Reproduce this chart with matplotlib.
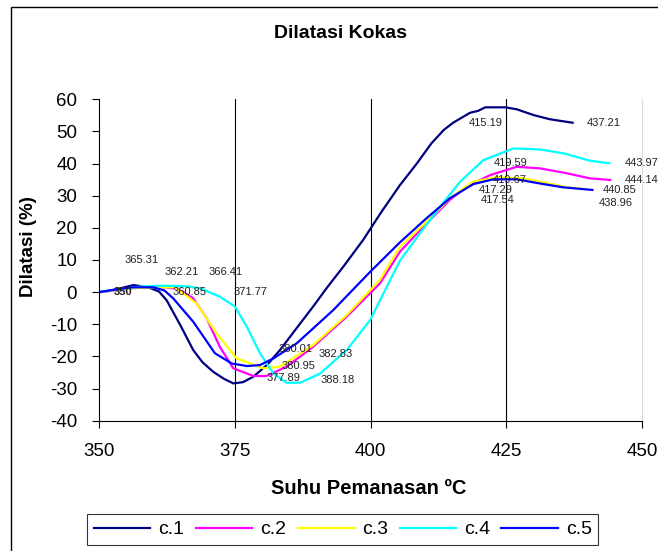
#coding:utf-8
import matplotlib
matplotlib.use("Agg")
import matplotlib.pyplot as plt
from matplotlib.patches import Rectangle

plt.rcParams['font.family'] = ['Liberation Sans', 'DejaVu Sans']
plt.rcParams['axes.unicode_minus'] = False

# data (suhu, dilatasi)
t1 = [350, 353, 356.3, 359, 361, 362.4, 365, 367.3, 369, 371, 373, 374.7, 376.5, 378.4, 381, 383.3, 386,
      389.4, 392, 395, 398.6, 402, 405.4, 408.5, 411.2, 413.5, 415.19, 418.3, 419.8, 421.1, 424.8, 426.9,
      430, 433, 437.21]
d1 = [0, 0.8, 2.2, 1.5, 0.2, -2.5, -10.5, -18.0, -21.8, -24.8, -27.0, -28.4, -28.0, -26.3, -22.5, -18.0, -12.0,
      -4.5, 1.5, 8.0, 16.2, 25.0, 33.3, 40.0, 46.3, 50.5, 52.7, 55.8, 56.4, 57.5, 57.5, 56.9,
      55.1, 53.8, 52.7]

t2 = [350, 353, 356, 359, 362, 364.5, 367.3, 369.8, 372.2, 374.7, 378.4, 380.8, 384.5, 389.4, 395.6,
      401.7, 405.4, 410.3, 414.6, 417.7, 422.0, 426.9, 431.2, 436.1, 440.4, 444.14]
d2 = [0, 0.5, 1.2, 1.5, 1.5, 1.0, -1.9, -8.2, -17.0, -23.7, -26.1, -26.1, -23.2, -17.0, -7.6,
      2.7, 12.6, 21.4, 28.7, 32.8, 36.4, 39.0, 38.5, 37.0, 35.4, 34.9]

t3 = [350, 356, 360, 364, 367.9, 371.6, 375.3, 380.2, 383.3, 389.4, 395.6, 401.7, 405.4, 410.3, 414.6,
      418.9, 423.2, 428.1, 432.4, 436.1, 438.96]
d3 = [0, 1.2, 1.5, 1.5, -3.5, -12.8, -20.6, -23.7, -23.2, -16.5, -7.1, 3.8, 14.1, 21.9, 29.2,
      34.4, 35.7, 35.4, 34.0, 32.6, 32.2]

t4 = [350, 354, 358, 362, 366, 368.6, 372.2, 375, 377.2, 379.6, 382.1, 384.5, 387, 390.7, 395.6, 399.9,
      405.4, 409.1, 412.8, 416.5, 420.8, 426.3, 431.2, 435.5, 440.4, 443.97]
d4 = [0, 1.0, 1.8, 2.0, 1.8, 1.2, -1.4, -4.5, -10.8, -19.0, -25.3, -28.2, -28.2, -25.3, -18.0, -8.7,
      9.8, 18.3, 26.6, 34.4, 41.1, 44.7, 44.4, 43.2, 40.9, 40.1]

t5 = [350, 353, 356, 360, 362, 363.6, 367.3, 371.3, 374.4, 377.2, 379.6, 382.1, 386.4, 393.1, 399.9,
      405.4, 410.3, 414.6, 418.9, 422.6, 426.9, 431.2, 435.5, 440.85]
d5 = [0, 0.8, 1.5, 1.5, 0.5, -1.9, -9.2, -19.0, -22.2, -23.0, -22.7, -20.6, -15.9, -5.6, 6.3,
      15.5, 23.0, 29.2, 33.6, 35.1, 35.1, 33.8, 32.6, 31.8]

names = ['c.1', 'c.2', 'c.3', 'c.4', 'c.5']
warna = ['#000080', '#FF00FF', '#FFFF00', '#00FFFF', '#0000FF']

# label data (nilai suhu) dan posisinya
label_teks = ['365.31', '362.21', '366.41', '360.85', '371.77', '380.01', '382.83', '380.95',
              '377.89', '388.18', '415.19', '437.21', '419.59', '443.97', '419.67', '444.14',
              '417.29', '440.85', '417.54', '438.96']
label_pos = [(357.8, 10.0), (365.2, 6.2), (373.3, 6.2), (366.7, 0.0), (377.8, 0.0), (386.1, -17.7),
             (393.6, -19.3), (386.7, -23.1), (384.0, -26.7), (394.0, -27.4), (421.2, 52.5),
             (443.0, 52.5), (425.7, 40.1), (449.9, 40.1), (425.7, 34.9), (449.9, 34.9),
             (423.1, 31.8), (445.9, 31.8), (423.4, 28.8), (445.2, 27.8)]

fig = plt.figure(figsize=(6.58, 5.51), dpi=100)
ax = fig.add_axes([0.1509, 0.2365, 0.8248, 0.5833])

# garis grid vertikal
for gx in [375, 400, 425]:
    ax.axvline(gx, color='black', linewidth=0.8, zorder=1)

for t, d, nm, c in zip([t1, t2, t3, t4, t5], [d1, d2, d3, d4, d5], names, warna):
    ax.plot(t, d, color=c, linewidth=1.6, label=nm, zorder=2)

for txt, (px, py) in zip(label_teks, label_pos):
    ax.text(px, py, txt, fontsize=8, color='#222222', ha='center', va='center', zorder=3,
            clip_on=False)
ax.text(354.4, 0.0, '350', fontsize=8, fontweight='bold', color='#222222', ha='center',
        va='center', zorder=3)

ax.set_xlim(350, 450)
ax.set_ylim(-40, 60)
ax.set_xticks([350, 375, 400, 425, 450])
ax.set_yticks(range(-40, 61, 10))
ax.tick_params(axis='both', direction='out', length=5, width=0.8, labelsize=13.5, pad=11)

ax.spines['top'].set_visible(False)
ax.spines['right'].set_color('#dddddd')
ax.spines['left'].set_linewidth(0.8)
ax.spines['bottom'].set_linewidth(0.8)

fig.text(0.517, 0.940, 'Dilatasi Kokas', fontsize=14, fontweight='bold', ha='center', va='center')
fig.text(0.561, 0.113, 'Suhu Pemanasan ºC', fontsize=14.5, fontweight='bold', ha='center', va='center')
fig.text(0.043, 0.552, 'Dilatasi (%)', fontsize=13.5, fontweight='bold', ha='center', va='center',
         rotation=90)

leg = fig.legend(loc='center', bbox_to_anchor=(0.521, 0.039), ncol=5, fontsize=14, frameon=True,
                 fancybox=False, edgecolor='black', handlelength=2.9, handletextpad=0.4,
                 columnspacing=0.6, borderpad=0.35)
leg.get_frame().set_linewidth(0.8)

# bingkai luar
fig.patches.append(Rectangle((11 / 658, -0.2), 1.5, 1.2 - 7 / 551, transform=fig.transFigure,
                             fill=False, edgecolor='black', linewidth=1.0))

fig.savefig('out.png', dpi=100)
